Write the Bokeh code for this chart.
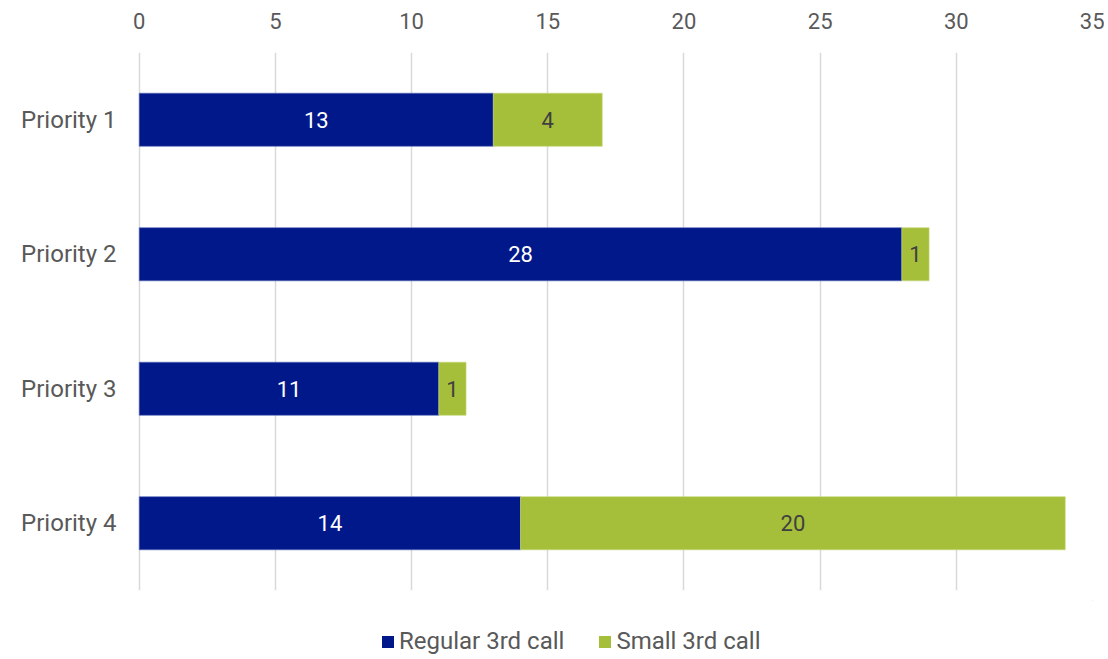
from bokeh.plotting import figure
from bokeh.models import (Range1d, FactorRange, FixedTicker, Legend, LegendItem,
                          ColumnDataSource)
from bokeh.layouts import column
from bokeh.core.properties import value
from bokeh.embed import file_html
from bokeh.resources import INLINE

categories = ["Priority 1", "Priority 2", "Priority 3", "Priority 4"]
regular = [13, 28, 11, 14]
small = [4, 1, 1, 20]
series_names = ["Regular 3rd call", "Small 3rd call"]
x_ticks = [0, 5, 10, 15, 20, 25, 30, 35]

BLUE = "#00188A"
GREEN = "#A6BF3B"
BLUE_EDGE = "#5a6bb8"
GREEN_EDGE = "#c4d67a"
FONT = "Roboto"
GREY = "#595959"

totals = [r + s for r, s in zip(regular, small)]
src = ColumnDataSource(dict(
    cat=categories,
    reg=regular,
    small=small,
    total=totals,
    zero=[0] * len(categories),
    reg_mid=[r / 2 for r in regular],
    small_mid=[r + s / 2 for r, s in zip(regular, small)],
    reg_txt=[str(v) for v in regular],
    small_txt=[str(v) for v in small],
))

p = figure(width=1104, height=600, output_backend="svg", toolbar_location=None,
           x_range=Range1d(-0.1, 35), y_range=FactorRange(*reversed(categories), range_padding=0),
           x_axis_location="above",
           min_border_left=136, min_border_right=12, min_border_top=52, min_border_bottom=10)
p.outline_line_color = None
p.background_fill_color = "white"

p.hbar(y="cat", left="zero", right="reg", height=0.395, source=src,
       fill_color=BLUE, line_color=BLUE_EDGE, line_width=0.6)
p.hbar(y="cat", left="reg", right="total", height=0.395, source=src,
       fill_color=GREEN, line_color=GREEN_EDGE, line_width=0.6)

p.text(x="reg_mid", y="cat", text="reg_txt", source=src, text_align="center",
       text_baseline="middle", text_color="white", text_font=value(FONT),
       text_font_size="22px")
p.text(x="small_mid", y="cat", text="small_txt", source=src, text_align="center",
       text_baseline="middle", text_color="#404040", text_font=value(FONT),
       text_font_size="22px")

xa = p.xaxis[0]
xa.ticker = FixedTicker(ticks=x_ticks)
xa.axis_line_color = None
xa.major_tick_line_color = None
xa.minor_tick_line_color = None
xa.major_label_text_font = FONT
xa.major_label_text_font_size = "22px"
xa.major_label_text_color = GREY
xa.major_label_standoff = 18

ya = p.yaxis[0]
ya.axis_line_color = None
ya.major_tick_line_color = None
ya.minor_tick_line_color = None
ya.major_label_text_font = FONT
ya.major_label_text_font_size = "24px"
ya.major_label_text_color = GREY
ya.major_label_standoff = 14

p.xgrid.grid_line_color = "#D9D9D9"
p.xgrid.grid_line_width = 1.5
p.xgrid.ticker = FixedTicker(ticks=x_ticks)
p.ygrid.grid_line_color = None

# legend strip below the chart (its key glyphs sit outside the visible range)
lg = figure(width=1104, height=59, output_backend="svg", toolbar_location=None,
            x_range=Range1d(0, 1), y_range=Range1d(0, 1),
            x_axis_type=None, y_axis_type=None,
            min_border_left=0, min_border_right=0, min_border_top=0, min_border_bottom=0)
lg.outline_line_color = None
lg.xgrid.grid_line_color = None
lg.ygrid.grid_line_color = None
k1 = lg.hbar(y=[5], left=[5], right=[6], height=1,
             fill_color=BLUE, line_color=None)
k2 = lg.hbar(y=[5], left=[5], right=[6], height=1,
             fill_color=GREEN, line_color=None)

legend = Legend(items=[LegendItem(label=series_names[0], renderers=[k1]),
                       LegendItem(label=series_names[1], renderers=[k2])],
                orientation="horizontal", location=(244, 4),
                label_text_font=FONT, label_text_font_size="24px",
                label_text_color=GREY, glyph_width=15, glyph_height=15,
                spacing=33, label_standoff=4, padding=0, margin=0,
                border_line_color=None, background_fill_alpha=0)
lg.add_layout(legend, "center")

layout = column(p, lg, spacing=0)
open("out.html", "w").write(file_html(layout, INLINE))
